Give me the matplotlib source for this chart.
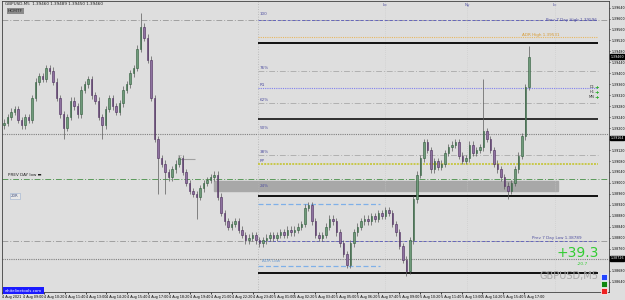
import numpy as np
import matplotlib
matplotlib.use('Agg')
import matplotlib.pyplot as plt
from matplotlib.ticker import MultipleLocator, FormatStrFormatter
from matplotlib.transforms import blended_transform_factory
from matplotlib.patches import Rectangle

# Close prices, one candle per sample
closes = [1.3922, 1.3924, 1.3926, 1.3927, 1.3923, 1.3921, 1.3924, 1.3923, 1.3931, 1.3937,
          1.3939, 1.3938, 1.3942, 1.3941, 1.3937, 1.3931, 1.3925, 1.3920, 1.3924, 1.3930,
          1.3928, 1.3925, 1.3934, 1.3936, 1.3938, 1.3932, 1.3930, 1.3924, 1.3921, 1.3927,
          1.3931, 1.3928, 1.3926, 1.3929, 1.3934, 1.3936, 1.3940, 1.3942, 1.3949, 1.3957,
          1.3953, 1.3945, 1.3931, 1.3916, 1.3909, 1.3907, 1.3904, 1.3902, 1.3905, 1.3907,
          1.3909, 1.3904, 1.3900, 1.3897, 1.3896, 1.3895, 1.3898, 1.3900, 1.3901, 1.3902,
          1.3903, 1.3895, 1.3889, 1.3886, 1.3884, 1.3885, 1.3886, 1.3883, 1.3881, 1.3879,
          1.3880, 1.3881, 1.3879, 1.3878, 1.3879, 1.3880, 1.3881, 1.3880, 1.3881, 1.3882,
          1.3881, 1.3883, 1.3882, 1.3883, 1.3884, 1.3885, 1.3891, 1.3892, 1.3886, 1.3881,
          1.3880, 1.3881, 1.3884, 1.3887, 1.3886, 1.3882, 1.3878, 1.3874, 1.3870, 1.3878,
          1.3882, 1.3884, 1.3886, 1.3887, 1.3886, 1.3888, 1.3887, 1.3889, 1.3888, 1.3890,
          1.3889, 1.3885, 1.3882, 1.3877, 1.3872, 1.3868, 1.3879, 1.3894, 1.3903, 1.3909,
          1.3915, 1.3912, 1.3905, 1.3908, 1.3906, 1.3907, 1.3911, 1.3913, 1.3914, 1.3915,
          1.3910, 1.3908, 1.3909, 1.3914, 1.3911, 1.3912, 1.3913, 1.3919, 1.3916, 1.3912,
          1.3907, 1.3905, 1.3902, 1.3899, 1.3897, 1.3900, 1.3905, 1.3910, 1.3917, 1.3935,
          1.3946]
first_open = 1.3921
# Long shadows: index -> (high, low)
spikes = {39: (1.3962, None), 17: (None, 1.3916), 28: (None, 1.3916), 44: (None, 1.3896),
          46: (None, 1.3896), 55: (None, 1.3887), 98: (None, 1.3869), 115: (None, 1.3866),
          137: (1.3938, None), 144: (None, 1.3894), 150: (1.3950, None)}

time_labels = ['4 Aug 2021', '4 Aug 09:00', '4 Aug 10:20', '4 Aug 11:40', '4 Aug 13:00',
               '4 Aug 14:20', '4 Aug 15:40', '4 Aug 17:00', '4 Aug 18:20', '4 Aug 19:40',
               '4 Aug 21:00', '4 Aug 22:20', '4 Aug 23:40', '5 Aug 01:00', '5 Aug 02:20',
               '5 Aug 03:40', '5 Aug 05:00', '5 Aug 06:20', '5 Aug 07:40', '5 Aug 09:00',
               '5 Aug 10:20', '5 Aug 11:40', '5 Aug 13:00', '5 Aug 14:20', '5 Aug 15:40',
               '5 Aug 17:00']

prev7_high = 1.39596
adr_high = 1.39531
prev7_low = 1.38789
adr_low = 1.38697
pivot = 1.39070
current = 1.39460

bg = '#dedede'
fig = plt.figure(figsize=(6.25, 3.0), dpi=100, facecolor=bg)
ax = fig.add_axes([2 / 625, 8 / 300, 607 / 625, 291 / 300], facecolor=bg)

n = len(closes)
x = np.arange(n)
opens = np.array([first_open] + closes[:-1])
cl = np.array(closes)
hi = np.maximum(opens, cl) + 0.00012
lo = np.minimum(opens, cl) - 0.00012
for k, (h, l) in spikes.items():
    if h is not None:
        hi[k] = h
    if l is not None:
        lo[k] = l
up = cl >= opens

ax.vlines(x, lo, hi, color='#5a5a5a', lw=0.5, zorder=3)
body_h = np.maximum(np.abs(cl - opens), 0.00003)
ax.bar(x[up], body_h[up], bottom=opens[up], width=0.5, color='#6f9a7a',
       edgecolor='#2e5a3a', lw=0.4, zorder=4)
ax.bar(x[~up], body_h[~up], bottom=cl[~up], width=0.5, color='#8e72a0',
       edgecolor='#4a2a5a', lw=0.4, zorder=4)

x0, x1 = -0.6, 172.9
day_start, line_end = 72.6, 169.7
ax.set_xlim(x0, x1)
ax.set_ylim(1.38602, 1.39664)

# full width levels
dd = (0, (6, 2, 1, 2))
ax.axhline(prev7_high, color='#a0a0a0', lw=0.7, ls=dd)
ax.axhline(1.39179, color='#808080', lw=0.8, ls=(0, (1, 1)))
ax.axhline(1.39015, color='#5a9a5a', lw=0.7, ls=dd)
ax.axhline(prev7_low, color='#a0a0a0', lw=0.7, ls=dd)
ax.axhline(1.38723, color='#808080', lw=0.8, ls=(0, (1, 1)))
ax.axvline(day_start, color='#b0b0b0', lw=0.6, ls=(0, (1, 2)))
for s in [108.8, 132.3, 157.4]:
    ax.axvline(s, color='#c8c8c8', lw=0.5, ls=(0, (1, 2)))

# day levels
ax.hlines(prev7_high, day_start, line_end, color='#6666bb', lw=0.7, ls=(0, (3, 2)), zorder=2)
ax.hlines(adr_high, day_start, line_end, color='#e8b860', lw=0.8, ls=(0, (1, 1)), zorder=2)
ax.hlines(1.39510, day_start, line_end, color='black', lw=1.3, zorder=2)
ax.hlines(1.39409, day_start, line_end, color='#b0b0b0', lw=0.7, ls=dd, zorder=2)
ax.hlines(1.39347, day_start, line_end, color='#8080ee', lw=0.8, ls=(0, (1, 1)), zorder=2)
ax.hlines(1.39292, day_start, line_end, color='#b0b0b0', lw=0.7, ls=dd, zorder=2)
ax.hlines(1.39234, day_start, line_end, color='black', lw=1.1, zorder=2)
ax.hlines(1.39102, day_start, line_end, color='#b0b0b0', lw=0.7, ls=dd, zorder=2)
ax.hlines(pivot, day_start, line_end, color='#c8c84a', lw=1.4, ls=(0, (1, 0.6)), zorder=2)
ax.hlines(1.38953, day_start, line_end, color='black', lw=1.3, zorder=2)
ax.hlines(1.38924, day_start, 107.4, color='#7fb0e8', lw=0.9, ls=(0, (4, 2)), zorder=2)
ax.hlines(prev7_low, day_start, line_end, color='#6666bb', lw=0.7, ls=(0, (3, 2)), zorder=2)
ax.hlines(adr_low, day_start, 107.4, color='#7fb0e8', lw=0.9, ls=(0, (4, 2)), zorder=2)
ax.hlines(1.38672, day_start, line_end, color='black', lw=1.3, zorder=2)
ax.hlines(1.39088, 49.7, 54.6, color='#a0a0a0', lw=0.8, zorder=2)
ax.text(49.7, 1.39092, 'LC', fontsize=3, color='#909090')

ax.add_patch(Rectangle((59.9, 1.38971), 158.3 - 59.9, 0.00037, color='#a8a8a8', zorder=1))

fs = 3.0
for lvl, txt in [(1.39606, '100'), (1.39409, '76%'), (1.39347, 'R1'), (1.39292, '62%'),
                 (1.39190, '50%'), (1.39102, '38%'), (pivot, 'PP'), (1.38980, '24%')]:
    ax.text(day_start + 0.5, lvl + 0.00003, txt, fontsize=fs, color='#5050a0', va='bottom')
ax.text(155, prev7_high, 'Prev 7 Day High 1.39596', fontsize=fs, color='#5050a0', va='center')
ax.text(148, adr_high + 0.00002, 'ADR High 1.39531', fontsize=fs, color='#d89a30', va='bottom')
ax.text(151, prev7_low + 0.00002, 'Prev 7 Day Low 1.38789', fontsize=fs, color='#5050a0', va='bottom')
ax.text(day_start + 1, adr_low + 0.00015, 'ADR Low', fontsize=fs, color='#6a9ad0')
ax.text(1, 1.39022, 'PREV DAY low \u25ac', fontsize=fs, color='#202020', va='bottom')
ax.text(2, 1.38953, '20R', fontsize=2.8, color='#405080', va='center',
        bbox=dict(boxstyle='square,pad=0.3', fc='#e8e8e8', ec='#9ab0d0', lw=0.4))

for tx, s in zip([108.8, 132.3, 157.4], ['Lo', 'Ny', 'Lc']):
    ax.text(tx, 0.985, s, transform=blended_transform_factory(ax.transData, ax.transAxes),
            fontsize=fs, color='#5050a0', ha='center', va='center')

# right side panel texts
ta = ax.transAxes
for yy, s in zip([0.703, 0.686, 0.669], ['D1', 'H1', 'MN']):
    ax.text(0.976, yy, s, transform=ta, fontsize=2.6, color='#303030', ha='right', va='center')
    ax.text(0.980, yy, '+', transform=ta, fontsize=4, color='#22aa22', ha='center',
            va='center', fontweight='bold')
ax.text(0.983, 0.135, '+39.3', transform=ta, fontsize=10, color='#33cc33', ha='right', va='center')
ax.text(0.965, 0.095, '-20.7', transform=ta, fontsize=3.2, color='#33cc33', ha='right', va='center')
ax.text(0.983, 0.055, 'GBPUSD,M5', transform=ta, fontsize=7, color='#a8a8a8', ha='right', va='center')

# price axis
ax.yaxis.tick_right()
ax.yaxis.set_major_locator(MultipleLocator(0.0004))
ax.yaxis.set_major_formatter(FormatStrFormatter('%.5f'))
ax.tick_params(axis='y', labelsize=2.3, length=1, width=0.5, pad=0.6)
tr = blended_transform_factory(ax.transAxes, ax.transData)
for p in [current, 1.39164, 1.38726]:
    ax.text(1.002, p, f'{p:.5f}', transform=tr, fontsize=2.3, color='white', va='center',
            bbox=dict(boxstyle='square,pad=0.15', fc='black', ec='black'), zorder=5)

# time axis
ax.set_xticks(np.arange(len(time_labels)) * 5.97 + x0)
ax.set_xticklabels(time_labels, fontsize=2.4, ha='left')
ax.tick_params(axis='x', length=1.5, width=0.5, pad=1)
for sp in ax.spines.values():
    sp.set_linewidth(0.6)
    sp.set_color('#404040')

fig.text(5 / 625, 1 - 4 / 300, 'GBPUSD,M5  1.39460 1.39489 1.39450 1.39460', fontsize=3.0,
         color='#202020', va='center')
fig.text(8 / 625, 1 - 11 / 300, 'HCMTF', fontsize=3.2, color='#303030', va='center',
         bbox=dict(boxstyle='square,pad=0.3', fc='#8a8a8a', ec='none'))
fig.text(5 / 625, 9.5 / 300, 'whitelinetools.com', fontsize=2.8, color='white', va='center',
         bbox=dict(boxstyle='square,pad=0.4', fc='#1a1aff', ec='none'))
for yy, c in zip([277, 284, 291], ['#2244ff', '#118811', '#ee2222']):
    fig.patches.append(Rectangle((601 / 625, 1 - (yy + 3) / 300), 6 / 625, 6 / 300,
                                 transform=fig.transFigure, fc=c, ec='white', lw=0.5))

fig.savefig('out.png', dpi=100, facecolor=bg)
